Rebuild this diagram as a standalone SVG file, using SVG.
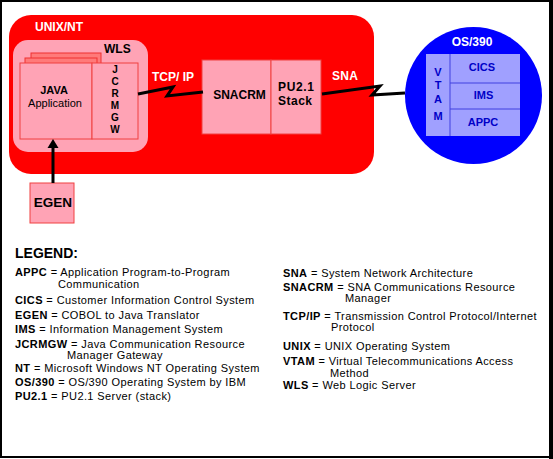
<svg xmlns="http://www.w3.org/2000/svg" width="553" height="459" viewBox="0 0 553 459">
<defs>
<style>
.t{font-family:"Liberation Sans",Arial,sans-serif;}
.b{font-weight:bold;}
.w{fill:#ffffff;}
.k{fill:#000000;}
.bl{fill:#0000c8;}
.pink{fill:#ffa3b5;stroke:#f04040;stroke-width:1;}
.page{fill:#ff7a7a;stroke:#f03030;stroke-width:1;}
.lg{font-size:11px;letter-spacing:0.4px;}
.conn{fill:none;stroke:#000;stroke-width:3;stroke-linejoin:miter;}
</style>
</defs>
<rect x="0" y="0" width="553" height="459" fill="#ffffff"/>
<rect x="1" y="1" width="549" height="456" fill="none" stroke="#000" stroke-width="2"/>
<rect x="549" y="0" width="4" height="459" fill="#000"/>

<g id="unix-nt">
<rect x="9" y="15" width="365" height="159" rx="22" ry="22" fill="#ff0000"/>
<text class="t b w" x="35" y="31" font-size="12">UNIX/NT</text>
</g>

<g id="wls">
<rect x="13" y="40" width="135" height="112" rx="15" ry="15" fill="#ffa3b5"/>
<text class="t b k" x="104" y="53" font-size="12">WLS</text>
<rect class="page" x="31" y="53" width="70" height="80"/>
<rect class="page" x="25" y="58" width="72" height="80"/>
</g>

<g id="java-app">
<rect class="pink" x="20" y="63" width="72" height="76"/>
<text class="t b k" x="54" y="94" font-size="11" text-anchor="middle">JAVA</text>
<text class="t k" x="55" y="107" font-size="11" text-anchor="middle">Application</text>
</g>

<g id="jcrmgw">
<rect class="pink" x="92" y="63" width="46" height="76"/>
<g class="t b k" font-size="10" text-anchor="middle">
<text x="115" y="73">J</text>
<text x="115" y="85">C</text>
<text x="115" y="97">R</text>
<text x="115" y="109">M</text>
<text x="115" y="121">G</text>
<text x="115" y="133">W</text>
</g>
</g>

<g id="snacrm">
<rect class="pink" x="202" y="60" width="69" height="74"/>
<text class="t b k" x="239.5" y="99" font-size="12" text-anchor="middle">SNACRM</text>
</g>

<g id="pu21">
<rect class="pink" x="271" y="60" width="50" height="74"/>
<text class="t b k" x="278" y="91" font-size="12" textLength="36" lengthAdjust="spacing">PU2.1</text>
<text class="t b k" x="278" y="105" font-size="12" textLength="34" lengthAdjust="spacing">Stack</text>
</g>

<g id="os390">
<circle cx="473.5" cy="95.5" r="68.5" fill="#0000ff"/>
<text class="t b w" x="472" y="46" font-size="12" text-anchor="middle">OS/390</text>
<rect x="426" y="54" width="94" height="82" fill="#a0a0ff"/>
<line x1="450" y1="54" x2="450" y2="136" stroke="#4040e0" stroke-width="1"/>
<line x1="450" y1="83" x2="520" y2="83" stroke="#4040e0" stroke-width="1"/>
<line x1="450" y1="109" x2="520" y2="109" stroke="#4040e0" stroke-width="1"/>
<g class="t b bl" font-size="11" text-anchor="middle">
<text x="438" y="76">V</text>
<text x="438" y="89">T</text>
<text x="438" y="103">A</text>
<text x="438" y="120">M</text>
<text x="482" y="71">CICS</text>
<text x="483.5" y="99">IMS</text>
<text x="483" y="126">APPC</text>
</g>
</g>

<g id="egen">
<rect class="pink" x="30" y="183" width="44" height="40"/>
<text class="t b k" x="53" y="207" font-size="13.5" text-anchor="middle">EGEN</text>
</g>

<g id="connectors">
<polyline class="conn" points="138,94 173,87 167,96 203,92"/>
<polyline class="conn" points="322,94 380,86 372,95 405,93"/>
<line x1="53" y1="183" x2="53" y2="148" stroke="#000" stroke-width="3"/>
<path d="M47.5,148 L53,139 L58.5,148 Z" fill="#000"/>
<text class="t b w" x="152" y="81" font-size="12">TCP/ IP</text>
<text class="t b w" x="332" y="80" font-size="12" textLength="26">SNA</text>
</g>

<g id="legend" class="t k">
<text class="b" x="15" y="258" font-size="14">LEGEND:</text>
<g class="lg">
<text x="15" y="276"><tspan class="b">APPC</tspan> = Application Program-to-Program</text>
<text x="58" y="288">Communication</text>
<text x="15" y="304"><tspan class="b">CICS</tspan> = Customer Information Control System</text>
<text x="15" y="319"><tspan class="b">EGEN</tspan> = COBOL to Java Translator</text>
<text x="15" y="333"><tspan class="b">IMS</tspan> = Information Management System</text>
<text x="15" y="348"><tspan class="b">JCRMGW</tspan> = Java Communication Resource</text>
<text x="67" y="359">Manager Gateway</text>
<text x="15" y="372"><tspan class="b">NT</tspan> = Microsoft Windows NT Operating System</text>
<text x="15" y="386"><tspan class="b">OS/390</tspan> = OS/390 Operating System by IBM</text>
<text x="15" y="400"><tspan class="b">PU2.1</tspan> = PU2.1 Server (stack)</text>
<text x="283" y="277"><tspan class="b">SNA</tspan> = System Network Architecture</text>
<text x="283" y="291"><tspan class="b">SNACRM</tspan> = SNA Communications Resource</text>
<text x="345" y="302">Manager</text>
<text x="283" y="320"><tspan class="b">TCP/IP</tspan> = Transmission Control Protocol/Internet</text>
<text x="331" y="331">Protocol</text>
<text x="283" y="350"><tspan class="b">UNIX</tspan> = UNIX Operating System</text>
<text x="283" y="365"><tspan class="b">VTAM</tspan> = Virtual Telecommunications Access</text>
<text x="330" y="377">Method</text>
<text x="283" y="389"><tspan class="b">WLS</tspan> = Web Logic Server</text>
</g>
</g>
</svg>
